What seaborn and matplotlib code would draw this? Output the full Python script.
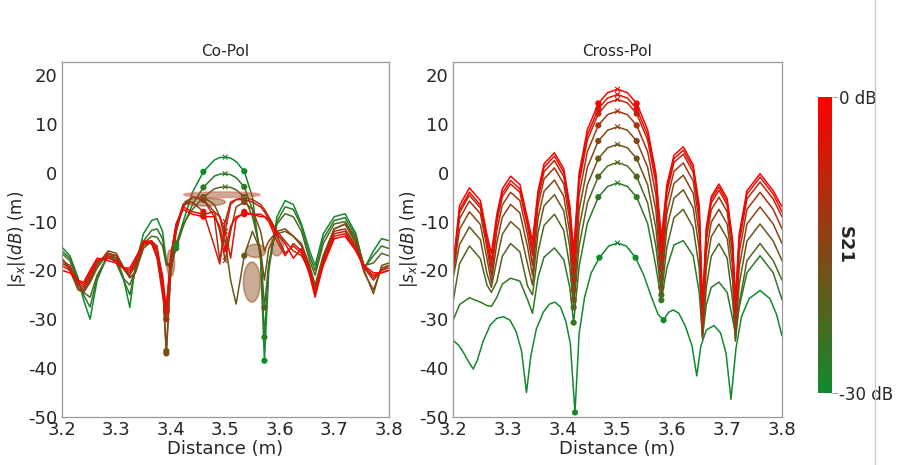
import numpy as np
import pandas as pd
import matplotlib
matplotlib.use("Agg")
import matplotlib.pyplot as plt
import seaborn as sns
from matplotlib.colors import LinearSegmentedColormap, Normalize
from matplotlib.patches import Ellipse
from matplotlib.lines import Line2D

# S21 level of each curve (dB), red = 0 dB ... green = -30 dB
s21_levels = [0, -3.75, -7.5, -11.25, -15, -18.75, -22.5, -26.25, -30]

# ---------------- Cross-Pol ----------------
cross_x = [3.200, 3.212, 3.230, 3.250, 3.262, 3.270, 3.280, 3.290, 3.305, 3.322,
           3.336, 3.345, 3.355, 3.366, 3.385, 3.402, 3.413, 3.420, 3.430, 3.445,
           3.465, 3.482, 3.500, 3.518, 3.535, 3.555, 3.570, 3.580, 3.590, 3.603,
           3.620, 3.638, 3.649, 3.655, 3.662, 3.671, 3.685, 3.700, 3.710, 3.715,
           3.722, 3.736, 3.760, 3.784, 3.800]
cross_c0 = [-19.5, -6.7, -3.1, -5.7, -12.7, -16.5, -8.5, -3.3, -0.7, -2.4,
            -9.4, -14.0, -3.8, 1.8, 4.1, 0.8, -6.8, -16.0, -0.1, 8.8,
            14.2, 16.4, 17.1, 16.4, 14.2, 8.8, -0.1, -13.5, -2.5, 3.6,
            5.3, 1.6, -6.7, -27.0, -11.2, -4.9, -2.3, -5.3, -14.0, -26.0,
            -12.5, -3.7, -0.2, -3.7, -7.0]
cross_c1 = [-19.5, -7.6, -4.0, -6.6, -13.6, -18.0, -9.4, -4.2, -1.6, -3.3,
            -10.3, -15.5, -4.4, 1.1, 3.4, 0.1, -7.4, -18.0, -1.1, 7.7,
            13.1, 15.3, 16.0, 15.3, 13.1, 7.7, -1.1, -15.5, -3.2, 2.9,
            4.6, 0.9, -7.4, -29.0, -11.8, -5.5, -2.9, -5.9, -14.6, -28.0,
            -13.2, -4.4, -0.9, -4.4, -8.0]
cross_c2 = [-20.0, -8.2, -4.6, -7.2, -14.2, -19.5, -10.1, -4.9, -2.3, -4.0,
            -11.0, -17.0, -5.3, 0.2, 2.5, -0.8, -8.3, -20.0, -2.1, 6.7,
            12.1, 14.3, 15.0, 14.3, 12.1, 6.7, -2.1, -17.5, -4.0, 2.1,
            3.8, 0.1, -8.2, -31.0, -12.5, -6.2, -3.6, -6.6, -15.3, -30.0,
            -14.2, -5.4, -1.9, -5.4, -9.0]
cross_c3 = [-20.5, -9.4, -5.8, -8.4, -15.4, -21.0, -11.8, -6.6, -4.0, -5.7,
            -12.7, -19.0, -6.8, -1.3, 1.0, -2.3, -9.8, -22.0, -4.5, 4.3,
            9.7, 11.9, 12.6, 11.9, 9.7, 4.3, -4.5, -19.5, -5.8, 0.3,
            2.0, -1.7, -10.0, -32.0, -13.9, -7.6, -5.0, -8.0, -16.7, -32.0,
            -16.3, -7.5, -4.0, -7.5, -11.5]
cross_c4 = [-21.0, -11.6, -8.0, -10.6, -17.6, -22.5, -14.3, -9.1, -6.5, -8.2,
            -15.2, -21.0, -9.3, -3.8, -1.5, -4.8, -12.3, -24.0, -7.7, 1.1,
            6.5, 8.7, 9.4, 8.7, 6.5, 1.1, -7.7, -21.5, -8.3, -2.2,
            -0.5, -4.2, -12.5, -33.0, -16.4, -10.1, -7.5, -10.5, -19.2, -33.0,
            -19.3, -10.5, -7.0, -10.5, -14.5]
cross_c5 = [-21.7, -14.7, -11.1, -13.7, -20.7, -23.5, -17.8, -12.6, -10.0, -11.7,
            -18.7, -23.0, -12.3, -6.8, -4.5, -7.8, -15.3, -26.0, -11.3, -2.5,
            2.9, 5.1, 5.8, 5.1, 2.9, -2.5, -11.3, -23.5, -11.3, -5.2,
            -3.5, -7.2, -15.5, -33.5, -19.4, -13.1, -10.5, -13.5, -22.2, -34.0,
            -22.8, -14.0, -10.5, -14.0, -18.0]
cross_c6 = [-26.5, -18.6, -15.0, -17.6, -23.0, -24.5, -22.3, -17.1, -14.5, -16.2,
            -23.2, -25.0, -16.3, -10.8, -8.5, -11.8, -19.3, -27.6, -15.0, -6.2,
            -0.8, 1.4, 2.1, 1.4, -0.8, -6.2, -15.0, -25.0, -15.3, -9.2,
            -7.5, -11.2, -19.5, -34.0, -23.4, -17.1, -14.5, -17.5, -26.2, -34.5,
            -26.8, -18.0, -14.5, -18.0, -22.0]
cross_c7 = [-30.3, -27.0, -25.6, -26.5, -27.2, -27.4, -25.5, -22.8, -21.6, -22.2,
            -26.0, -28.8, -21.5, -17.3, -15.4, -17.8, -23.5, -30.7, -19.2, -10.4,
            -5.0, -2.8, -2.1, -2.8, -5.0, -10.4, -19.2, -26.1, -19.5, -14.8,
            -13.9, -17.0, -24.5, -33.5, -27.0, -23.5, -22.4, -24.5, -30.0, -32.8,
            -27.5, -20.5, -17.0, -20.5, -26.0]
cross_g_x = [3.200, 3.210, 3.220, 3.230, 3.237, 3.244, 3.255, 3.268, 3.280, 3.292,
             3.304, 3.315, 3.325, 3.334, 3.342, 3.352, 3.365, 3.376, 3.386, 3.396,
             3.406, 3.414, 3.4225, 3.430, 3.440, 3.452, 3.467, 3.484, 3.500, 3.516,
             3.533, 3.548, 3.562, 3.574, 3.584, 3.593, 3.602, 3.612, 3.624, 3.636,
             3.6445, 3.652, 3.662, 3.676, 3.688, 3.698, 3.707, 3.716, 3.726, 3.740,
             3.760, 3.778, 3.790, 3.800]
cross_c8 = [-34.3, -35.3, -37.0, -39.0, -40.2, -38.5, -34.5, -31.2, -29.8, -29.5,
            -30.2, -32.5, -36.5, -45.0, -37.5, -32.0, -28.5, -26.9, -26.5, -27.5,
            -30.5, -35.0, -49.1, -33.0, -25.5, -20.5, -17.4, -15.0, -14.4, -15.0,
            -17.4, -21.0, -25.5, -29.0, -30.2, -28.6, -28.1, -28.8, -31.5, -35.5,
            -41.6, -35.5, -32.2, -31.3, -32.8, -37.0, -46.4, -36.0, -29.5, -25.8,
            -24.1, -25.8, -29.0, -33.4]
cross_curves = [cross_c0, cross_c1, cross_c2, cross_c3, cross_c4,
                cross_c5, cross_c6, cross_c7, cross_c8]
cross_xs = [cross_x] * 8 + [cross_g_x]
cross_dot_x = [[3.42, 3.465, 3.535, 3.58]] * 8 + [[3.4225, 3.467, 3.533, 3.584]]

# ---------------- Co-Pol ----------------
co_x = [3.200, 3.215, 3.230, 3.240, 3.252, 3.265, 3.285, 3.300, 3.312, 3.325,
        3.335, 3.350, 3.365, 3.375, 3.385, 3.392, 3.400, 3.410, 3.423, 3.440,
        3.460, 3.480, 3.490, 3.500, 3.510, 3.520, 3.535, 3.550, 3.565, 3.572,
        3.580, 3.595, 3.610, 3.625, 3.640, 3.655, 3.665, 3.680, 3.700, 3.720,
        3.740, 3.755, 3.772, 3.787, 3.800]
co_c0 = [-20.0, -20.5, -22.0, -22.5, -20.0, -17.5, -18.0, -18.5, -19.5, -19.5,
         -17.5, -14.5, -14.0, -16.0, -21.0, -28.0, -17.0, -10.5, -7.5, -8.5,
         -9.0, -9.0, -11.0, -16.0, -11.0, -9.0, -8.5, -8.5, -9.0, -9.0,
         -9.5, -12.5, -14.5, -17.5, -15.5, -20.0, -25.0, -19.0, -13.5, -13.0,
         -16.0, -19.0, -20.5, -20.5, -20.0]
co_c1 = [-19.0, -20.0, -22.0, -23.0, -20.5, -18.0, -17.5, -18.0, -19.5, -20.0,
         -18.0, -14.0, -14.0, -17.0, -23.0, -28.0, -17.5, -10.5, -7.0, -8.0,
         -8.5, -8.0, -9.0, -12.0, -17.5, -9.5, -8.0, -8.5, -8.5, -9.0,
         -10.0, -14.0, -17.0, -14.5, -16.0, -21.0, -25.5, -18.5, -13.0, -12.5,
         -16.0, -19.5, -21.0, -20.5, -20.0]
co_c2 = [-18.5, -19.5, -22.5, -23.5, -21.0, -18.0, -17.0, -17.5, -19.5, -20.5,
         -18.5, -14.0, -14.5, -17.5, -25.0, -28.5, -18.5, -11.0, -6.5, -6.0,
         -8.0, -15.0, -18.7, -10.0, -6.0, -5.5, -5.5, -6.0, -7.0, -8.0,
         -9.5, -13.0, -16.5, -15.0, -16.5, -20.5, -25.0, -18.0, -12.5, -12.0,
         -15.5, -19.0, -21.5, -20.0, -19.5]
co_c3 = [-18.0, -19.0, -23.0, -24.0, -21.5, -18.5, -16.5, -17.0, -19.5, -21.0,
         -19.0, -14.5, -14.5, -17.0, -24.0, -30.0, -20.0, -11.5, -6.5, -5.0,
         -5.5, -9.0, -18.0, -12.0, -6.5, -5.5, -5.0, -5.5, -6.5, -7.5,
         -9.0, -12.0, -14.0, -16.0, -17.0, -20.0, -24.0, -17.5, -12.0, -11.5,
         -15.0, -19.5, -22.0, -20.0, -19.0]
co_c4 = [-17.5, -20.0, -24.0, -24.5, -22.0, -19.0, -16.0, -16.5, -19.0, -21.5,
         -20.5, -15.0, -14.0, -15.5, -23.0, -37.0, -21.0, -12.0, -6.5, -5.0,
         -5.5, -8.0, -12.0, -18.0, -12.0, -7.0, -6.0, -7.5, -12.0, -16.0,
         -14.0, -12.0, -11.5, -13.0, -15.0, -19.5, -23.5, -17.0, -11.5, -10.5,
         -14.5, -20.5, -24.0, -19.5, -19.0]
co_c5 = [-17.5, -19.5, -23.5, -24.5, -22.5, -19.5, -16.5, -17.0, -19.5, -21.5,
         -20.5, -15.5, -14.0, -15.0, -22.0, -36.5, -20.0, -12.0, -7.0, -5.0,
         -5.0, -6.5, -9.0, -14.0, -22.0, -26.9, -17.0, -12.0, -16.0, -22.0,
         -15.5, -12.5, -12.0, -13.0, -14.5, -19.0, -23.0, -17.0, -11.5, -10.5,
         -14.0, -20.0, -24.8, -19.0, -18.5]
co_c6 = [-16.5, -18.0, -22.5, -24.5, -25.5, -21.0, -17.0, -18.5, -21.5, -23.0,
         -20.0, -14.5, -13.0, -13.2, -15.0, -19.0, -18.5, -14.5, -10.5, -7.5,
         -5.0, -3.3, -3.0, -2.9, -3.0, -3.5, -5.0, -9.0, -16.0, -27.6,
         -18.5, -10.5, -8.4, -9.0, -12.0, -18.0, -21.0, -14.5, -10.5, -10.0,
         -13.5, -19.0, -18.5, -16.5, -17.0]
co_c7 = [-16.0, -17.5, -22.0, -25.0, -27.5, -21.5, -17.0, -18.0, -21.5, -25.0,
         -20.0, -14.0, -11.8, -11.5, -13.5, -18.5, -19.0, -15.5, -11.0, -6.5,
         -3.0, -0.7, -0.3, -0.2, -0.4, -1.0, -2.9, -7.5, -17.0, -33.7,
         -19.0, -10.0, -7.0, -7.5, -11.0, -17.0, -20.0, -13.5, -9.8, -9.2,
         -13.0, -19.5, -17.0, -15.0, -15.5]
co_c8 = [-15.2, -17.0, -21.5, -26.0, -30.0, -22.0, -16.5, -17.5, -21.0, -27.6,
         -19.0, -12.5, -9.8, -9.4, -12.0, -18.0, -20.0, -15.0, -10.0, -4.0,
         0.2, 2.6, 3.1, 3.2, 3.0, 2.3, 0.3, -5.0, -18.0, -38.5,
         -20.0, -9.0, -5.7, -6.5, -10.5, -16.0, -19.0, -12.5, -9.0, -8.4,
         -12.5, -19.7, -16.0, -13.5, -13.9]
co_curves = [co_c0, co_c1, co_c2, co_c3, co_c4, co_c5, co_c6, co_c7, co_c8]
co_xs = [co_x] * 9
co_dot_x = [[3.392, 3.46, 3.535]] * 6 + [[3.41, 3.46, 3.535, 3.572]] * 3

# shaded uncertainty ellipses on the co-pol panel
ell_x = [3.494, 3.463, 3.549, 3.556, 3.400, 3.595]
ell_y = [-4.5, -6.0, -22.4, -16.0, -18.5, -15.0]
ell_w = [0.14, 0.075, 0.031, 0.037, 0.014, 0.024]
ell_h = [1.2, 1.6, 8.2, 2.7, 5.5, 4.0]

cmap = LinearSegmentedColormap.from_list("s21", ["#108a2c", "#ff0000"])
norm = Normalize(-30, 0)


def long_table(xs, curves):
    rows = []
    for lvl, xx, yy in zip(s21_levels, xs, curves):
        for a, b in zip(xx, yy):
            rows.append((lvl, a, b))
    return pd.DataFrame(rows, columns=["s21", "distance", "level"])


def marker_table(xs, curves, dot_x):
    rows = []
    for lvl, xx, yy, dx in zip(s21_levels, xs, curves, dot_x):
        for d in dx:
            rows.append((lvl, d, yy[xx.index(d)], "o"))
        rows.append((lvl, 3.5, yy[xx.index(3.5)], "x"))
    return pd.DataFrame(rows, columns=["s21", "distance", "level", "kind"])


sns.set_style("white")
plt.rcParams["font.family"] = ["DejaVu Sans"]
plt.rcParams["axes.unicode_minus"] = False

fig = plt.figure(figsize=(8.97, 4.65), dpi=100)
ax_co = fig.add_axes([0.0688, 0.1035, 0.3645, 0.7634])
ax_cr = fig.add_axes([0.5050, 0.1035, 0.3668, 0.7634])
cax = fig.add_axes([0.9120, 0.1548, 0.0156, 0.6366])

panels = [(ax_co, "Co-Pol", co_xs, co_curves, co_dot_x),
          (ax_cr, "Cross-Pol", cross_xs, cross_curves, cross_dot_x)]

for ax, title, xs, curves, dots in panels:
    df = long_table(xs, curves)
    sns.lineplot(data=df, x="distance", y="level", hue="s21", palette=cmap,
                 hue_norm=norm, units="s21", estimator=None, sort=False,
                 linewidth=1.1, legend=False, ax=ax)
    mk = marker_table(xs, curves, dots)
    sns.scatterplot(data=mk[mk.kind == "o"], x="distance", y="level", hue="s21",
                    palette=cmap, hue_norm=norm, s=20, linewidth=0,
                    legend=False, ax=ax, zorder=3)
    sns.scatterplot(data=mk[mk.kind == "x"], x="distance", y="level", hue="s21",
                    palette=cmap, hue_norm=norm, s=12, marker="x", linewidth=0.8,
                    legend=False, ax=ax, zorder=3)
    ax.set_xlim(3.2, 3.8)
    ax.set_ylim(-50, 22.7)
    ax.set_xticks([3.2, 3.3, 3.4, 3.5, 3.6, 3.7, 3.8])
    ax.set_yticks([-50, -40, -30, -20, -10, 0, 10, 20])
    ax.tick_params(labelsize=13, length=2, color="#999999", pad=1)
    ax.set_title(title, fontsize=11, pad=4)
    ax.set_xlabel("Distance (m)", fontsize=13, labelpad=1)
    ax.set_ylabel(r"$|s_x|(dB)$ (m)", fontsize=12, labelpad=0)
    for sp in ax.spines.values():
        sp.set_color("#999999")
        sp.set_linewidth(0.9)

for i in range(len(ell_x)):
    face = cmap(0.5)
    e = Ellipse((ell_x[i], ell_y[i]), ell_w[i], ell_h[i], facecolor=face,
                edgecolor="#ff5050" if i == 0 else face, alpha=0.45, lw=1.2,
                zorder=4)
    ax_co.add_patch(e)

sm = plt.cm.ScalarMappable(norm=norm, cmap=cmap)
cbar = fig.colorbar(sm, cax=cax, ticks=[0, -30])
cbar.ax.set_yticklabels(["0 dB", "-30 dB"], fontsize=12)
cbar.outline.set_visible(False)
cbar.ax.tick_params(length=4, width=0.8, color="#aaaaaa", pad=1)
cbar.ax.text(1.9, 0.5, "S21", rotation=270, ha="center", va="center",
             fontsize=13, fontweight="bold", transform=cbar.ax.transAxes)

fig.add_artist(Line2D([875 / 897, 875 / 897], [0, 1], transform=fig.transFigure,
                      color="#c8c8c8", linewidth=0.9))

fig.savefig("out.png", dpi=100)
